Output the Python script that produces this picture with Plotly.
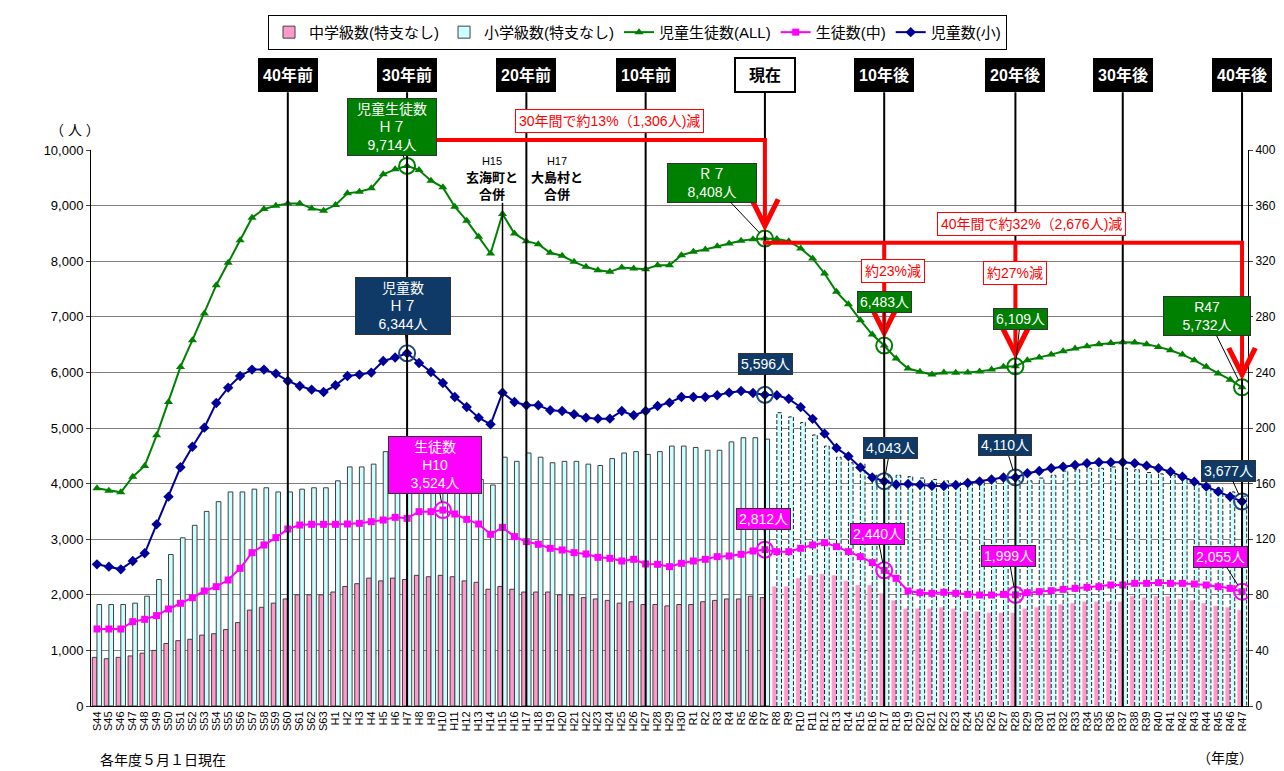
import plotly.graph_objects as go

######## Datos
nendo = ([f"S{n}" for n in range(44, 64)] + [f"H{n}" for n in range(1, 31)]
         + [f"R{n}" for n in range(1, 48)])

# 児童生徒数(ALL)
zenbu = [3915, 3873, 3843, 4125, 4317, 4868, 5468, 6098, 6579, 7059, 7569, 7971, 8379, 8782, 8938, 8998, 9040, 9040, 8950, 8908,
         9010, 9220, 9250, 9310, 9562, 9652, 9714, 9640, 9448, 9328, 8980, 8728, 8439, 8139, 8848, 8499, 8361, 8307, 8151, 8097,
         7989, 7899, 7839, 7809, 7887, 7869, 7857, 7929, 7929, 8109,
         8169, 8211, 8271, 8319, 8367, 8397, 8408, 8400, 8361, 8229, 8049, 7779, 7449, 7227, 6939, 6681, 6483, 6249, 6070, 6010,
         5960, 6000, 5995, 6000, 6015, 6050, 6100, 6109, 6220, 6267, 6320, 6380, 6430, 6470, 6507, 6530, 6543, 6537, 6507, 6459,
         6399, 6320, 6220, 6100, 5980, 5870, 5732]

# 児童数(小)
jido = [2548, 2506, 2458, 2608, 2746, 3267, 3765, 4293, 4664, 5006, 5450, 5726, 5936, 6050, 6050, 5978, 5846, 5756, 5690, 5648,
        5768, 5936, 5960, 5996, 6206, 6267, 6344, 6170, 6008, 5810, 5558, 5378, 5186, 5066, 5636, 5468, 5408, 5408, 5318, 5306,
        5246, 5186, 5168, 5168, 5306, 5228, 5306, 5396, 5456, 5558,
        5558, 5558, 5588, 5636, 5666, 5630, 5596, 5590, 5525, 5375, 5165, 4898, 4640, 4490, 4290, 4110, 4043, 3985, 3995, 3978,
        3960, 3958, 3975, 4010, 4040, 4075, 4110, 4110, 4185, 4227, 4275, 4305, 4335, 4365, 4383, 4383, 4383, 4365, 4323, 4275,
        4215, 4125, 4035, 3945, 3855, 3765, 3677]

# 生徒数(中)
seito = [1385, 1385, 1385, 1517, 1559, 1625, 1745, 1847, 1948, 2068, 2146, 2266, 2476, 2758, 2896, 3028, 3183, 3255, 3267, 3267,
         3267, 3273, 3285, 3315, 3345, 3393, 3375, 3495, 3495, 3524, 3453, 3357, 3273, 3088, 3213, 3046, 2956, 2908, 2836, 2806,
         2758, 2734, 2674, 2656, 2608, 2638, 2554, 2548, 2506, 2566,
         2608, 2638, 2686, 2698, 2728, 2788, 2812, 2776, 2776, 2836, 2896, 2938, 2866, 2776, 2686, 2578, 2440, 2296, 2068, 2038,
         2026, 2044, 2026, 2008, 1996, 1996, 2008, 1999, 2038, 2056, 2074, 2098, 2116, 2134, 2146, 2176, 2176, 2206, 2206, 2218,
         2206, 2206, 2194, 2176, 2146, 2116, 2055]

# 中学級数(特支なし)
chu_kyu = [35, 34, 35, 36, 38, 40, 45, 47, 48, 51, 52, 55, 60, 69, 71, 74, 77, 80, 80, 80,
           82, 86, 88, 92, 90, 92, 91, 94, 93, 94, 93, 90, 89, 84, 86, 84, 82, 82, 82, 80,
           80, 78, 77, 76, 74, 75, 73, 73, 72, 73,
           73, 75, 76, 77, 77, 79, 78, 86, 86, 92, 94, 95, 94, 90, 87, 87, 81, 76, 70, 70,
           70, 71, 70, 68, 68, 67, 67, 67, 70, 71, 72, 73, 74, 75, 75, 75, 75, 79, 78, 79,
           79, 77, 76, 74, 72, 71, 69]

# 小学級数(特支なし)
sho_kyu = [73, 73, 73, 74, 79, 91, 109, 121, 130, 140, 147, 154, 154, 156, 157, 154, 154, 156, 157, 157,
           162, 172, 172, 174, 183, 186, 188, 187, 186, 183, 178, 170, 163, 159, 179, 176, 182, 179, 175, 176,
           176, 174, 173, 178, 182, 183, 181, 183, 187, 187,
           186, 184, 184, 190, 193, 193, 192, 211, 208, 204, 195, 187, 179, 175, 174, 166, 166, 166, 165, 164,
           163, 162, 161, 161, 161, 162, 162, 162, 162, 164, 166, 169, 170, 171, 171, 172, 171, 170, 168, 167,
           166, 164, 161, 159, 157, 154, 151]

jiten_idx = [16, 26, 36, 46, 56, 66, 77, 86, 96]
jiten_txt = ["40年前", "30年前", "20年前", "10年前", "現在", "10年後", "20年後", "30年後", "40年後"]

suikei_desde = 57  # R8 から推計
font_jp = "Liberation Sans, Noto Sans CJK JP"

x_all = list(range(len(nendo)))
act = x_all[:suikei_desde]
proj = x_all[suikei_desde:]

fig = go.Figure()

# barras (eje derecha)
fig.add_trace(go.Bar(
    x=act, y=chu_kyu[:suikei_desde], offset=-0.39, width=0.39,
    marker=dict(color='#FF99CC', line=dict(color='#404040', width=1)),
    name='中学級数(特支なし)', yaxis='y'))
fig.add_trace(go.Bar(
    x=proj, y=chu_kyu[suikei_desde:], offset=-0.39, width=0.39,
    marker=dict(color='#FF99CC', line=dict(color='#FFC2E0', width=0.5)),
    showlegend=False, yaxis='y', hoverinfo='skip'))
fig.add_trace(go.Bar(
    x=act, y=sho_kyu[:suikei_desde], offset=0, width=0.39,
    marker=dict(color='#CCFFFF', line=dict(color='#404040', width=1)),
    name='小学級数(特支なし)', yaxis='y'))
fig.add_trace(go.Bar(
    x=proj, y=sho_kyu[suikei_desde:], offset=0, width=0.39,
    marker=dict(color='#CCFFFF', line=dict(width=0)),
    showlegend=False, yaxis='y', hoverinfo='skip'))

# contorno punteado de las barras proyectadas
ox, oy = [], []
for i in proj:
    v = sho_kyu[i]
    ox += [i, i, i + 0.39, i + 0.39, None]
    oy += [0, v, v, 0, None]
fig.add_trace(go.Scatter(
    x=ox, y=oy, mode='lines', yaxis='y',
    line=dict(color='#222222', width=1, dash='4px,2px'),
    showlegend=False, hoverinfo='skip'))

# lineas (eje izquierda)
series = [
    (zenbu, '児童生徒数(ALL)', '#008000', 'triangle-up', 8, [26, 56, 66, 77, 96]),
    (seito, '生徒数(中)', '#FF00FF', 'square', 7, [29, 56, 66, 77, 96]),
    (jido, '児童数(小)', '#000099', 'diamond', 8, [26, 56, 66, 77, 96]),
]
circ_color = {'児童生徒数(ALL)': '#008000', '生徒数(中)': '#FF00FF', '児童数(小)': '#1F4E79'}
for vals, nombre, color, simbolo, tam, _ in series:
    fig.add_trace(go.Scatter(
        x=x_all, y=vals, name=nombre, yaxis='y2', mode='lines+markers',
        line=dict(color=color, width=2),
        marker=dict(symbol=simbolo, size=tam, color=color)))
for vals, nombre, color, simbolo, tam, marcas in series:
    fig.add_trace(go.Scatter(
        x=marcas, y=[vals[i] for i in marcas], yaxis='y2', mode='markers',
        marker=dict(symbol='circle-open', size=16, color=circ_color[nombre], line=dict(width=2)),
        showlegend=False, hoverinfo='skip'))

# lineas verticales de referencia
for i in jiten_idx:
    fig.add_shape(type='line', xref='x', yref='paper', x0=i, x1=i, y0=0, y1=1.104,
                  line=dict(color='black', width=2), layer='above')
fig.add_shape(type='line', xref='x', yref='paper', x0=34, x1=34, y0=0, y1=0.905,
              line=dict(color='black', width=1.5), layer='above')

anots = []
for i, t in zip(jiten_idx, jiten_txt):
    ahora = t == "現在"
    anots.append(dict(
        x=i, y=1.135, xref='x', yref='paper', xanchor='center', yanchor='middle',
        text=f"<b>{t}</b>", showarrow=False,
        font=dict(size=16, color='black' if ahora else 'white', family=font_jp),
        bgcolor='white' if ahora else 'black', bordercolor='black', borderwidth=2 if ahora else 1,
        width=56, height=30, borderpad=1))

# flechas rojas
fig.add_shape(type='line', xref='x', yref='paper', x0=27.6, x1=56.17, y0=1.018, y1=1.018,
              line=dict(color='red', width=4), layer='above')
fig.add_shape(type='line', xref='x', yref='y2', x0=55.83, x1=96.17, y0=8330, y1=8330,
              line=dict(color='red', width=4), layer='above')
flechas = [(56, zenbu[56], 10180), (66, zenbu[66], 8330), (77, zenbu[77], 8330), (96, zenbu[96], 8330)]
for i, v, top in flechas:
    anots.append(dict(x=i, y=v, xref='x', yref='y2', axref='x', ayref='y2', ax=i, ay=top,
                      text='', showarrow=True, arrowhead=5, arrowsize=1.3, arrowwidth=4,
                      arrowcolor='red', standoff=7))

# etiquetas de valores
etiquetas = [
    (zenbu, 26, "児童生徒数<br>Ｈ７<br>9,714人", -15, -39, '#008000', 84),
    (zenbu, 56, "Ｒ７<br>8,408人", -53, -56, '#008000', 84),
    (zenbu, 66, "6,483人", 0, -44, '#008000', None),
    (zenbu, 77, "6,109人", 5, -47, '#008000', None),
    (zenbu, 96, "R47<br>5,732人", -35, -71, '#008000', 82),
    (jido, 26, "児童数<br>Ｈ７<br>6,344人", -4, -47, '#0F3A68', 90),
    (jido, 56, "5,596人", 1, -31, '#0F3A68', None),
    (jido, 66, "4,043人", 6, -33, '#0F3A68', None),
    (jido, 77, "4,110人", -10, -32, '#0F3A68', None),
    (jido, 96, "3,677人", -14, -31, '#0F3A68', None),
    (seito, 29, "生徒数<br>H10<br>3,524人", -8, -45, '#FF00FF', 88),
    (seito, 56, "2,812人", -1, -31, '#FF00FF', None),
    (seito, 66, "2,440人", -7, -36, '#FF00FF', None),
    (seito, 77, "1,999人", -7, -39, '#FF00FF', None),
    (seito, 96, "2,055人", -22, -35, '#FF00FF', None),
]
for vals, i, t, dx, dy, bg, w in etiquetas:
    a = dict(x=i, y=vals[i], xref='x', yref='y2', text=t, showarrow=True,
             ax=dx, ay=dy, arrowhead=0, arrowwidth=1, arrowcolor='black', standoff=8,
             font=dict(size=14, color='white', family=font_jp),
             bgcolor=bg, bordercolor='#333333', borderwidth=1, borderpad=2)
    if w:
        a['width'] = w
    anots.append(a)

rojos = [
    (0.448, 1.053, 'paper', 'paper', "30年間で約13%（1,306人)減"),
    (0.813, 0.867, 'paper', 'paper', "40年間で約32%（2,676人)減"),
    (66.7, 7824, 'x', 'y2', "約23%減"),
    (77.0, 7779, 'x', 'y2', "約27%減"),
]
for x, y, xr, yr, t in rojos:
    anots.append(dict(x=x, y=y, xref=xr, yref=yr, xanchor='center', yanchor='middle',
                      text=t, showarrow=False,
                      font=dict(size=14, color='red', family=font_jp),
                      bgcolor='white', bordercolor='red', borderwidth=1, borderpad=3))

# textos de fusion
for x, t in [(33.1, "H15</span><br><b>玄海町と<br>合併</b>"), (38.6, "H17</span><br><b>大島村と<br>合併</b>")]:
    anots.append(dict(x=x, y=0.948, xref='x', yref='paper', xanchor='center', yanchor='middle',
                      showarrow=False, text="<span style='font-size:11px'>" + t,
                      font=dict(size=13, color='black', family=font_jp)))

# textos sueltos
anots.append(dict(x=-0.014, y=1.036, xref='paper', yref='paper', xanchor='center', yanchor='middle',
                  showarrow=False, text="（ 人 ）", font=dict(size=14, color='black', family=font_jp)))
anots.append(dict(x=0.006, y=-0.097, xref='paper', yref='paper', xanchor='left', yanchor='middle',
                  showarrow=False, text="各年度５月１日現在",
                  font=dict(size=14, color='black', family=font_jp)))
anots.append(dict(x=1.006, y=-0.094, xref='paper', yref='paper', xanchor='right', yanchor='middle',
                  showarrow=False, text="（年度）", font=dict(size=14, color='black', family=font_jp)))

# la pagina tiene 8px de margen en body: se compensa en el layout
fig.update_layout(
    width=1276, height=763,
    margin=dict(l=83, r=36, t=142, b=65, autoexpand=False),
    barmode='overlay',
    plot_bgcolor='white',
    paper_bgcolor='white',
    font=dict(family=font_jp, color='black'),
    annotations=anots,
    legend=dict(orientation='h', x=0.153, y=1.243, xanchor='left', yanchor='top',
                bgcolor='white', bordercolor='black', borderwidth=1, itemwidth=30,
                font=dict(size=15, family=font_jp)),
    xaxis=dict(range=[-0.5, 96.5], tickvals=x_all, ticktext=nendo, tickangle=-90,
               tickfont=dict(size=11, family='Liberation Sans'), showline=True, linecolor='black',
               showgrid=False, zeroline=False, ticks='', automargin=False),
    yaxis=dict(range=[0, 400], dtick=40, side='right', showgrid=True, gridcolor='#808080',
               showline=True, linecolor='black', zeroline=False, ticks='outside', ticklen=4,
               tickfont=dict(size=12, family='Liberation Sans'), automargin=False),
    yaxis2=dict(range=[0, 10000], dtick=1000, overlaying='y', side='left', showgrid=False,
                tickformat=',', showline=True, linecolor='black', zeroline=False,
                ticks='outside', ticklen=4, tickfont=dict(size=13, family='Liberation Sans'),
                automargin=False),
)

fig.write_html("out.html")
